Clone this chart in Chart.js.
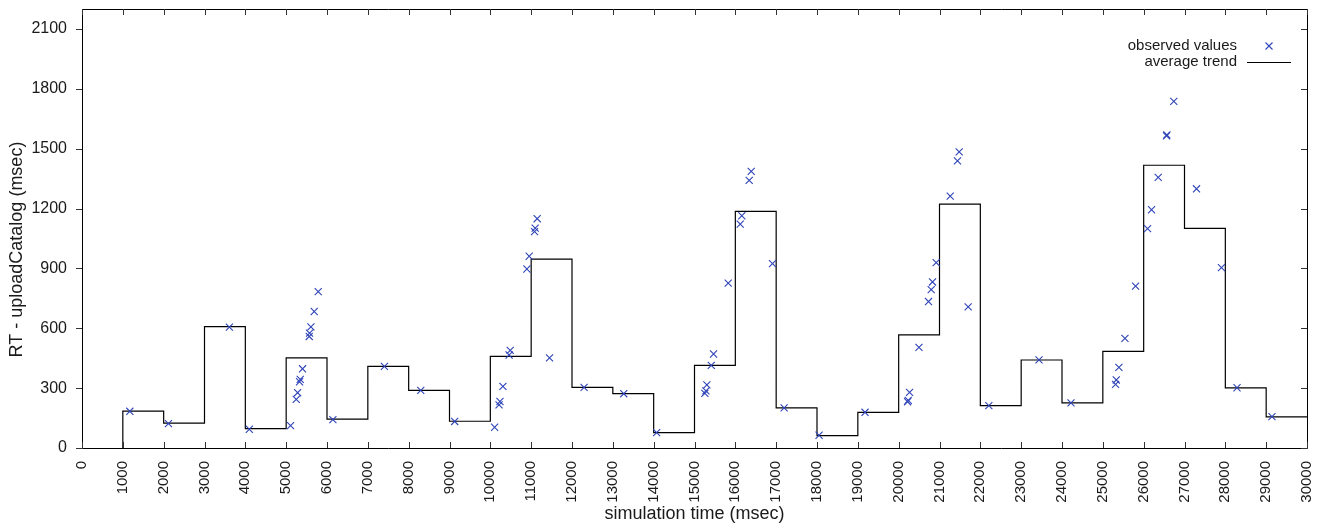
<!DOCTYPE html>
<html>
<head>
<meta charset="utf-8">
<script src="https://cdn.jsdelivr.net/npm/chart.js@4/dist/chart.umd.min.js"></script>
<style>
  html, body { margin: 0; padding: 0; background: #fff; }
  #wrap { width: 1323px; height: 528px; position: relative; }
</style>
</head>
<body>
<div id="wrap"><canvas id="c" width="1323" height="528"></canvas></div>
<script>
// ---- data ----
const observedTimes = [
  1171, 2117, 3609, 4098, 5108, 5247, 5280, 5328, 5345, 5401, 5565, 5573, 5606, 5687, 5785,
  6144, 7406, 8296, 9127, 10105, 10214, 10235, 10308, 10460, 10487, 10895, 10951, 11083, 11098, 11147,
  11450, 12296, 13267, 14073, 15254, 15279, 15303, 15411, 15467, 15826, 16120, 16159, 16340, 16389,
  16910, 17195, 18051, 19176, 20218, 20235, 20267, 20497, 20731, 20797, 20829, 20919, 21262, 21440,
  21482, 21702, 22208, 23437, 24220, 25312, 25329, 25394, 25541, 25802, 26095, 26193, 26356, 26560,
  26568, 26738, 27294, 27905, 28286, 29142
];
const observedValues = [
  184, 122, 606, 94, 112, 244, 277, 332, 344, 397, 559, 576, 607, 684, 784,
  142, 409, 289, 133, 104, 216, 233, 309, 466, 489, 897, 961, 1084, 1102, 1149,
  452, 304, 272, 77, 274, 286, 316, 414, 471, 826, 1122, 1164, 1341, 1386,
  924, 201, 64, 179, 232, 239, 279, 504, 734, 794, 832, 929, 1262, 1439,
  1484, 707, 212, 442, 226, 319, 341, 404, 549, 811, 1099, 1194, 1356, 1564,
  1569, 1737, 1299, 904, 302, 157
];
const trendStarts = [1000, 2000, 3000, 4000, 5000, 6000, 7000, 8000, 9000, 10000, 11000, 12000, 13000, 14000,
  15000, 16000, 17000, 18000, 19000, 20000, 21000, 22000, 23000, 24000, 25000, 26000, 27000, 28000, 29000];
const trendValues = [185, 125, 608, 97, 452, 145, 409, 289, 134, 459, 947, 304, 272, 77,
  414, 1186, 201, 62, 179, 567, 1222, 212, 441, 226, 484, 1417, 1101, 301, 156];
const trendBaseline = 0;
const trendEnd = 30000;
const xTickValues = [0,1000,2000,3000,4000,5000,6000,7000,8000,9000,10000,11000,12000,13000,14000,15000,
  16000,17000,18000,19000,20000,21000,22000,23000,24000,25000,26000,27000,28000,29000,30000];
const yTickValues = [0, 300, 600, 900, 1200, 1500, 1800, 2100];
const seriesLabels = ['observed values', 'average trend'];
const axisTitles = { x: 'simulation time (msec)', y: 'RT - uploadCatalog (msec)' };

// ---- build datasets ----
const scatterPoints = observedTimes.map((t, i) => ({ x: t, y: observedValues[i] }));
const trendPoints = [{ x: trendStarts[0], y: trendBaseline }]
  .concat(trendStarts.map((t, i) => ({ x: t, y: trendValues[i] })))
  .concat([{ x: trendEnd, y: trendValues[trendValues.length - 1] }]);

const FONT = '"Liberation Sans", Arial, Helvetica, sans-serif';
const BLUE = '#2f44b8';
const TEXT = '#1a1a1a';

// frame + tick marks
const framePlugin = {
  id: 'frame',
  afterDatasetsDraw(chart) {
    const { ctx, chartArea: a, scales } = chart;
    ctx.save();
    ctx.strokeStyle = '#000';
    ctx.lineWidth = 1;
    ctx.beginPath();
    ctx.rect(Math.round(a.left) + 0.5, Math.round(a.top) + 0.5,
             Math.round(a.right - a.left), Math.round(a.bottom - a.top));
    ctx.stroke();
    ctx.strokeStyle = '#333';
    ctx.beginPath();
    xTickValues.forEach(v => {
      const px = Math.round(scales.x.getPixelForValue(v)) + 0.5;
      ctx.moveTo(px, a.bottom); ctx.lineTo(px, a.bottom - 6);
      ctx.moveTo(px, a.top); ctx.lineTo(px, a.top + 6);
    });
    yTickValues.forEach(v => {
      const py = Math.round(scales.y.getPixelForValue(v)) + 0.5;
      ctx.moveTo(a.left, py); ctx.lineTo(a.left - 6, py);
      ctx.moveTo(a.right, py); ctx.lineTo(a.right - 6, py);
    });
    ctx.stroke();
    ctx.restore();
  }
};

// y-axis title (placed slightly below centre, as in the reference)
const yTitlePlugin = {
  id: 'ytitle',
  afterDraw(chart) {
    const { ctx, chartArea: a } = chart;
    ctx.save();
    ctx.font = '18px ' + FONT;
    ctx.fillStyle = TEXT;
    ctx.textAlign = 'center';
    ctx.textBaseline = 'middle';
    ctx.translate(17, (a.top + a.bottom) / 2 + 21);
    ctx.rotate(-Math.PI / 2);
    ctx.fillText(axisTitles.y, 0, 0);
    ctx.restore();
  }
};

// gnuplot-style key: right-aligned text, sample to the right
const keyPlugin = {
  id: 'gkey',
  afterDraw(chart) {
    const { ctx, chartArea: a } = chart;
    const ds = chart.data.datasets;
    ctx.save();
    ctx.font = '15px ' + FONT;
    ctx.fillStyle = TEXT;
    ctx.textAlign = 'right';
    ctx.textBaseline = 'middle';
    const textRight = a.right - 70;
    const rows = [a.top + 37, a.top + 53];
    ctx.fillText(ds[0].label, textRight, rows[0]);
    ctx.fillText(ds[1].label, textRight, rows[1]);
    const cx = a.right - 38, cy = rows[0];
    ctx.strokeStyle = ds[0].borderColor;
    ctx.lineWidth = 1.1;
    ctx.beginPath();
    ctx.moveTo(cx - 3.5, cy - 3.5); ctx.lineTo(cx + 3.5, cy + 3.5);
    ctx.moveTo(cx + 3.5, cy - 3.5); ctx.lineTo(cx - 3.5, cy + 3.5);
    ctx.stroke();
    ctx.strokeStyle = ds[1].borderColor;
    ctx.lineWidth = 1.2;
    ctx.beginPath();
    ctx.moveTo(a.right - 60, rows[1] + 0.5); ctx.lineTo(a.right - 16, rows[1] + 0.5);
    ctx.stroke();
    ctx.restore();
  }
};

new Chart(document.getElementById('c'), {
  type: 'scatter',
  data: {
    datasets: [
      {
        label: seriesLabels[0],
        data: scatterPoints,
        pointStyle: 'crossRot',
        pointRadius: 5,
        pointHoverRadius: 5,
        borderColor: BLUE,
        backgroundColor: BLUE,
        pointBorderWidth: 1.1,
        showLine: false,
        order: 0
      },
      {
        type: 'line',
        label: seriesLabels[1],
        data: trendPoints,
        stepped: 'before',
        borderColor: '#000',
        borderWidth: 1.2,
        pointRadius: 0,
        fill: false,
        tension: 0,
        order: 1
      }
    ]
  },
  options: {
    responsive: false,
    animation: false,
    devicePixelRatio: 1,
    layout: { padding: { top: 9, right: 16, left: 0, bottom: 0 } },
    plugins: {
      legend: { display: false },
      tooltip: { enabled: false }
    },
    scales: {
      x: {
        type: 'linear',
        min: 0, max: 30000,
        afterFit(s) { s.height = 80; s.paddingLeft = 0; s.paddingRight = 0; },
        afterBuildTicks(s) { s.ticks = xTickValues.map(v => ({ value: v })); },
        grid: { display: false },
        border: { display: false },
        ticks: {
          autoSkip: false,
          minRotation: 90, maxRotation: 90,
          padding: 5,
          color: TEXT,
          font: { family: FONT, size: 15 },
          callback: v => String(v)
        },
        title: {
          display: true,
          text: axisTitles.x,
          color: TEXT,
          font: { family: FONT, size: 18 },
          padding: { top: 0, bottom: 3 }
        }
      },
      y: {
        type: 'linear',
        min: 0, max: 2200,
        afterFit(s) { s.width = 82; s.paddingTop = 0; s.paddingBottom = 0; },
        afterBuildTicks(s) { s.ticks = yTickValues.map(v => ({ value: v })); },
        grid: { display: false },
        border: { display: false },
        ticks: {
          padding: 7,
          color: TEXT,
          font: { family: FONT, size: 16 },
          callback: v => String(v)
        },
        title: { display: false }
      }
    }
  },
  plugins: [framePlugin, yTitlePlugin, keyPlugin]
});
</script>
</body>
</html>
